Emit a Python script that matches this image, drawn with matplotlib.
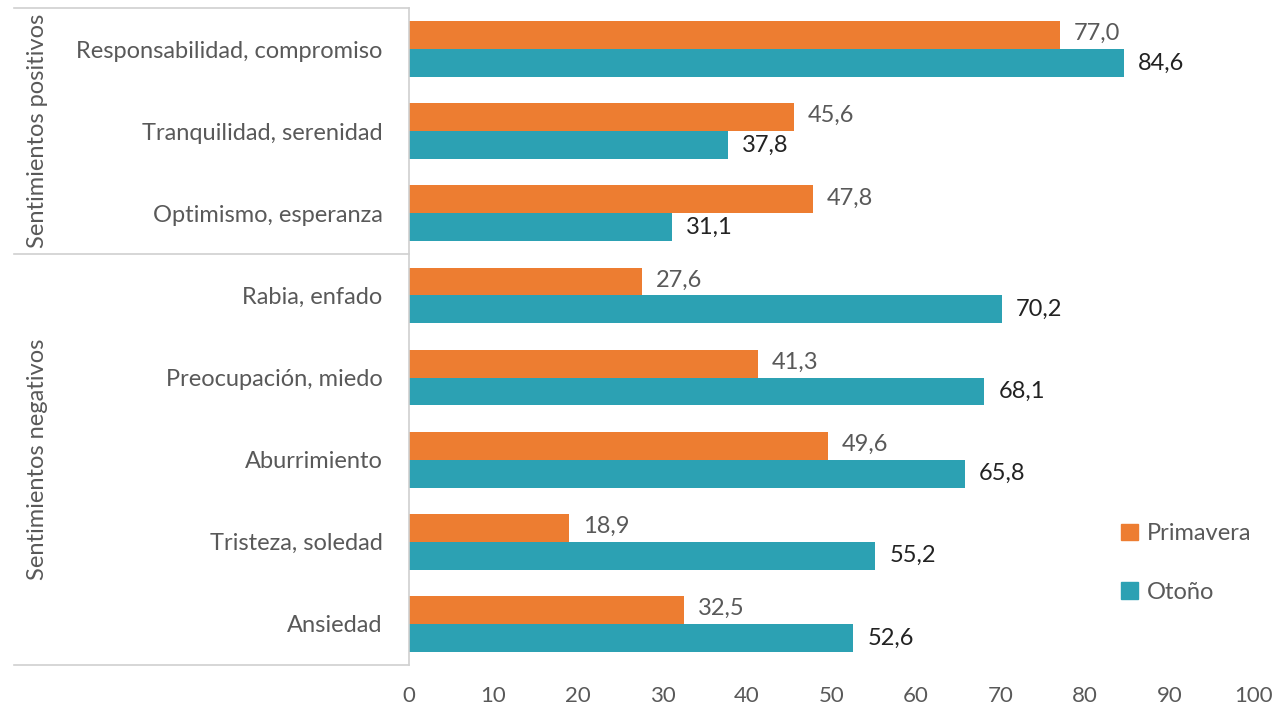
import matplotlib
matplotlib.use('Agg')
import matplotlib.pyplot as plt
from matplotlib.patches import Patch

# Datos
categorias = [
    "Responsabilidad, compromiso",
    "Tranquilidad, serenidad",
    "Optimismo, esperanza",
    "Rabia, enfado",
    "Preocupación, miedo",
    "Aburrimiento",
    "Tristeza, soledad",
    "Ansiedad",
]
primavera = [77.0, 45.6, 47.8, 27.6, 41.3, 49.6, 18.9, 32.5]
otono = [84.6, 37.8, 31.1, 70.2, 68.1, 65.8, 55.2, 52.6]
grupos = [("Sentimientos positivos", 0, 2), ("Sentimientos negativos", 3, 7)]
ticks_x = [0, 10, 20, 30, 40, 50, 60, 70, 80, 90, 100]

NARANJA = "#ED7D31"
TEAL = "#2CA1B3"
GRIS = "#595959"
LINEA = "#D0D0D0"
FS = 17

plt.rcParams['font.family'] = ['Lato', 'DejaVu Sans']

fig = plt.figure(figsize=(12.85, 7.09), dpi=100)
x0, x1 = 409, 1254
ax = fig.add_axes([x0 / 1285, 44 / 709, (x1 - x0) / 1285, 657 / 709])

alto = 0.34
ys = list(range(len(categorias)))
ax.barh([y - alto / 2 for y in ys], primavera, height=alto, color=NARANJA, label="Primavera")
ax.barh([y + alto / 2 for y in ys], otono, height=alto, color=TEAL, label="Otoño")

for y, v in zip(ys, primavera):
    ax.annotate(f"{v:.1f}".replace('.', ','), (v, y - alto / 2), xytext=(10, 1),
                textcoords='offset points', va='center', ha='left',
                fontsize=FS, color=GRIS)
for y, v in zip(ys, otono):
    ax.annotate(f"{v:.1f}".replace('.', ','), (v, y + alto / 2), xytext=(10, 0),
                textcoords='offset points', va='center', ha='left',
                fontsize=FS, color="#222222")

ax.set_xlim(0, 100)
ax.set_ylim(len(categorias) - 0.5, -0.5)
ax.set_xticks(ticks_x)
ax.set_yticks(ys)
ax.set_yticklabels(categorias)
ax.tick_params(axis='y', length=0, pad=19, labelsize=FS, labelcolor=GRIS)
ax.tick_params(axis='x', length=0, pad=15, labelsize=16, labelcolor=GRIS)
for s in ax.spines.values():
    s.set_visible(False)

# Caja de categorías agrupadas a la izquierda
tr = ax.get_yaxis_transform()
ancho = x1 - x0
x_izq = (14 - x0) / ancho
ax.plot([0, 0], [-0.5, len(categorias) - 0.5], color=LINEA, lw=1.2, transform=tr, clip_on=False)
for yb in [-0.5, 2.5, len(categorias) - 0.5]:
    ax.plot([x_izq, 0], [yb, yb], color=LINEA, lw=1.2, transform=tr, clip_on=False)
for nombre, a, b in grupos:
    ax.text((38 - x0) / ancho, (a + b) / 2, nombre, rotation=90, ha='center', va='center',
            fontsize=FS, color=GRIS, transform=tr)

handles = [Patch(color=NARANJA), Patch(color=TEAL)]
fig.legend(handles, ["Primavera", "Otoño"], loc='center left',
           bbox_to_anchor=(1100 / 1285, 1 - 563 / 709), frameon=False,
           fontsize=FS, labelcolor=GRIS, handlelength=0.7, handleheight=0.7,
           handletextpad=0.4, labelspacing=1.6)

fig.savefig("out.png", dpi=100)
